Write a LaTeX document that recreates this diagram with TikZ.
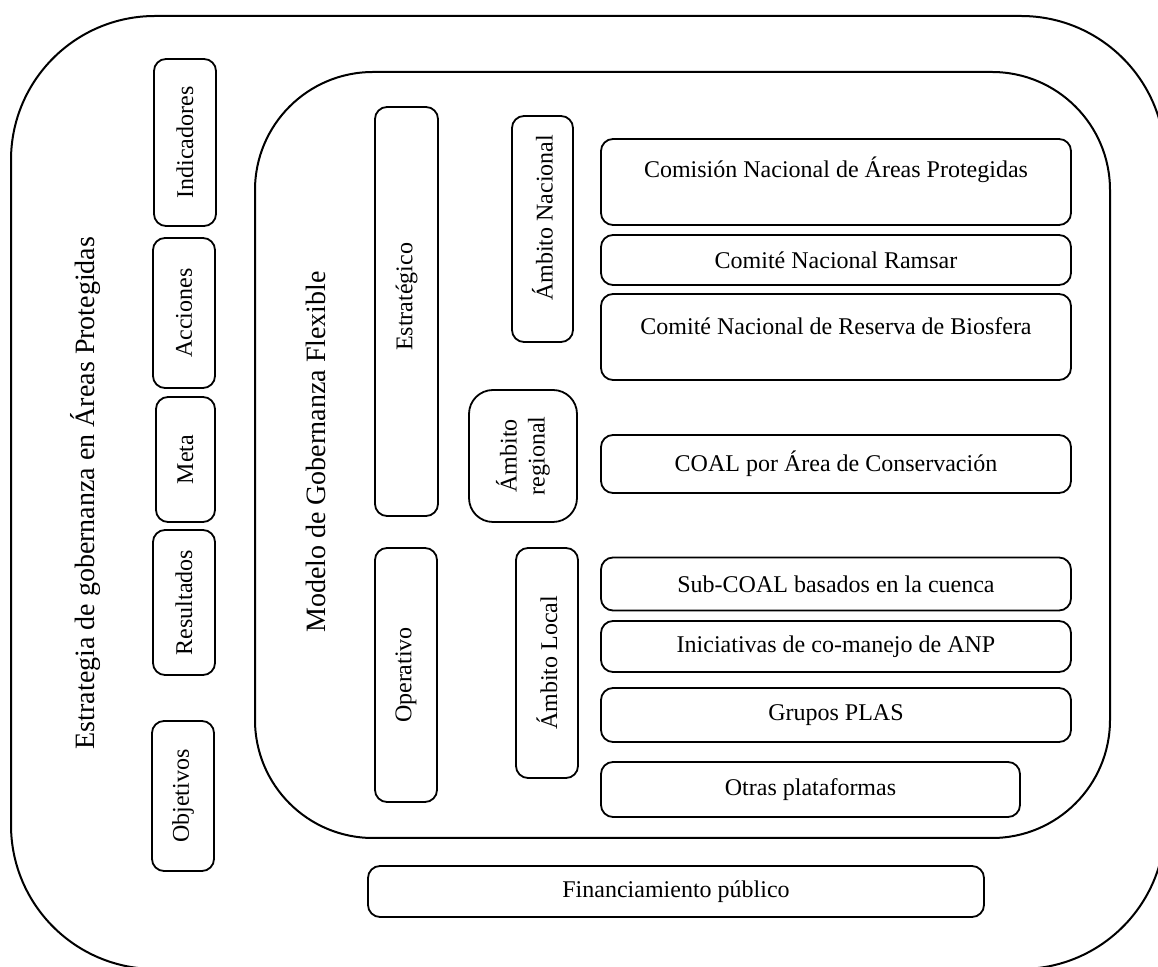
\documentclass[tikz,border=0pt]{standalone}
\usepackage{fontspec}
\setmainfont{Liberation Serif}
\begin{document}
\begin{tikzpicture}[x=0.5pt,y=-0.5pt,
  frame/.style={draw, line width=1pt},
  box/.style={draw, line width=0.9pt, rounded corners=6pt, inner sep=0pt, font=\fontsize{12}{14}\selectfont},
  vbox/.style={box, rotate=90},
  txt/.style={inner sep=0pt, font=\fontsize{12}{14}\selectfont},
  vtxt/.style={txt, rotate=90},
  title/.style={inner sep=0pt, rotate=90, font=\fontsize{14}{16}\selectfont}]
\useasboundingbox (0,0) rectangle (1158,967);
\begin{scope}
\clip (0,0) rectangle (1158,967);
\draw[frame, rounded corners=72pt] (11,16) rectangle (1165,969);
\end{scope}
\node[title] (estr) at (86,493) {Estrategia de gobernanza en Áreas Protegidas};
% left column
\node[vbox, minimum width=83.5pt, minimum height=31pt] (ind) at (185,142.5) {Indicadores};
\node[vbox, minimum width=75pt, minimum height=31pt] (acc) at (184,313) {Acciones};
\node[vbox, minimum width=62.5pt, minimum height=29.5pt] (meta) at (185.5,459.5) {Meta};
\node[vbox, minimum width=72.5pt, minimum height=31pt] (res) at (184,602.5) {Resultados};
\node[vbox, minimum width=75pt, minimum height=31pt] (obj) at (183,796) {Objetivos};
% inner frame
\draw[frame, rounded corners=59pt] (255,72) rectangle (1110,838);
\node[title] (model) at (316,452) {Modelo de Gobernanza Flexible};
% strategic / operative
\node[vbox, minimum width=204.5pt, minimum height=31.5pt] (estrat) at (406.5,311.5) {};
\node[vtxt] (estratt) at (406.5,297) {Estratégico};
\node[vbox, minimum width=127pt, minimum height=31pt] (oper) at (406,675) {Operativo};
% ambitos
\node[vbox, minimum width=113pt, minimum height=30.5pt] (nac) at (542.5,229) {};
\node[vtxt] (nact) at (542.5,218) {Ámbito Nacional};
\node[vbox, rounded corners=12pt, minimum width=66pt, minimum height=54pt, align=center] (reg) at (523,456) {Ámbito\\regional};
\node[vbox, minimum width=115pt, minimum height=31pt] (loc) at (547,663) {Ámbito Local};
% right boxes
\node[box, minimum width=235pt, minimum height=43pt] (cnap) at (836,182) {};
\node[txt] (cnapt) at (836,170) {Comisión Nacional de Áreas Protegidas};
\node[box, minimum width=235pt, minimum height=25pt] (ram) at (836,260) {Comité Nacional Ramsar};
\node[box, minimum width=235pt, minimum height=43pt] (rb) at (836,337) {};
\node[txt] (rbt) at (836,326) {Comité Nacional de Reserva de Biosfera};
\node[box, minimum width=235pt, minimum height=29pt] (coal) at (836,464) {COAL por Área de Conservación};
\node[box, minimum width=235pt, minimum height=26.5pt] (sub) at (836,584) {Sub-COAL basados en la cuenca};
\node[box, minimum width=235pt, minimum height=25.5pt] (ini) at (836,646.5) {Iniciativas de co-manejo de ANP};
\node[box, minimum width=235pt, minimum height=27pt] (plas) at (836,715) {Grupos PLAS};
\node[box, minimum width=209.5pt, minimum height=27.5pt] (otras) at (810.5,789.5) {Otras plataformas};
\node[box, minimum width=308pt, minimum height=25.5pt] (fin) at (676,891.5) {Financiamiento público};
\end{tikzpicture}
\end{document}
